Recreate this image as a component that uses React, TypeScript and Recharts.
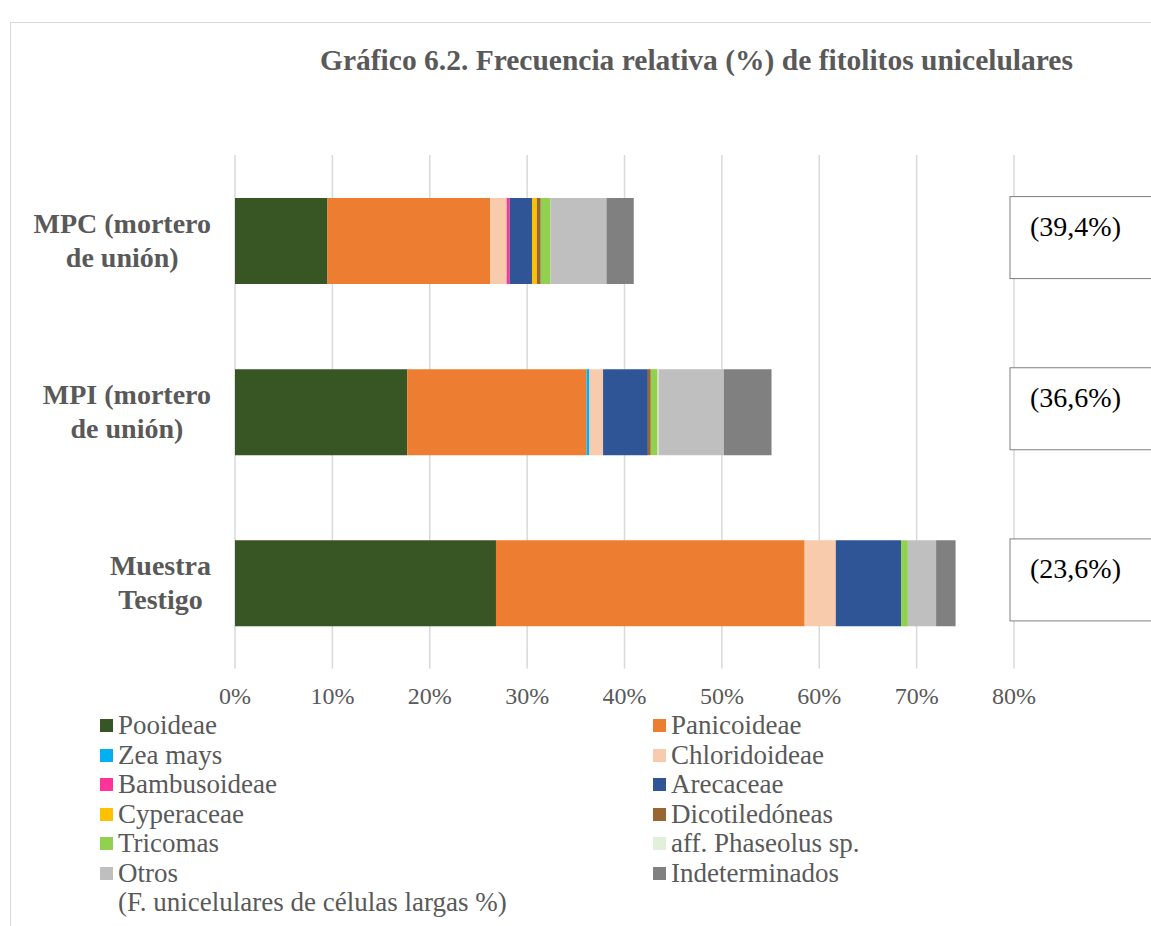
import React from 'react';
import { BarChart, Bar, XAxis, YAxis, CartesianGrid } from 'recharts';

const CATEGORIES = ['MPC (mortero\nde unión)', 'MPI (mortero\nde unión)', 'Muestra\nTestigo'];
const TOTAL_LABELS = ['(39,4%)', '(36,6%)', '(23,6%)'];
const X_TICKS = [0, 10, 20, 30, 40, 50, 60, 70, 80];

// values per category: MPC, MPI, Muestra Testigo
const pooideae = [9.5, 17.7, 26.8];
const panicoideae = [16.7, 18.4, 31.7];
const zeaMays = [0, 0.3, 0];
const chloridoideae = [1.7, 1.4, 3.2];
const bambusoideae = [0.3, 0, 0];
const arecaceae = [2.3, 4.6, 6.7];
const cyperaceae = [0.5, 0, 0];
const dicotiledoneas = [0.4, 0.3, 0];
const tricomas = [1.0, 0.7, 0.7];
const phaseolus = [0, 0.1, 0];
const otros = [5.75, 6.7, 2.9];
const indeterminados = [2.8, 4.9, 2.0];

const SERIES = [
  { key: 'Pooideae', values: pooideae, color: '#375623' },
  { key: 'Panicoideae', values: panicoideae, color: '#ED7D31' },
  { key: 'Zea mays', values: zeaMays, color: '#00B0F0' },
  { key: 'Chloridoideae', values: chloridoideae, color: '#F8CBAD' },
  { key: 'Bambusoideae', values: bambusoideae, color: '#FF3399' },
  { key: 'Arecaceae', values: arecaceae, color: '#2F5597' },
  { key: 'Cyperaceae', values: cyperaceae, color: '#FFC000' },
  { key: 'Dicotiledóneas', values: dicotiledoneas, color: '#996633' },
  { key: 'Tricomas', values: tricomas, color: '#92D050' },
  { key: 'aff. Phaseolus sp.', values: phaseolus, color: '#E2EFDA' },
  { key: 'Otros', values: otros, color: '#BFBFBF' },
  { key: 'Indeterminados', values: indeterminados, color: '#808080' },
];

const data = CATEGORIES.map((name, i) => {
  const row: any = { name };
  SERIES.forEach((s) => { row[s.key] = s.values[i]; });
  return row;
});

const FONT = "'Liberation Serif', 'Times New Roman', serif";
const TEXT = '#595959';

let ctx: CanvasRenderingContext2D | null = null;
const measure = (t: string, font: string) => {
  if (!ctx) ctx = document.createElement('canvas').getContext('2d');
  if (!ctx) return t.length * 12;
  ctx.font = font;
  return ctx.measureText(t).width;
};

const CategoryTick = ({ x, y, payload }: any) => {
  const lines = String(payload.value).split('\n');
  const font = `bold 28px ${FONT}`;
  const maxW = Math.max(...lines.map((l) => measure(l, font)));
  const cx = x - maxW / 2;
  return (
    <text x={cx} y={y} textAnchor="middle" fill={TEXT} fontFamily={FONT} fontSize={28} fontWeight="bold">
      {lines.map((l, i) => (
        <tspan key={i} x={cx} y={y + (i - (lines.length - 1) / 2) * 34 + 9}>{l}</tspan>
      ))}
    </text>
  );
};

const BoxTick = ({ x, y, payload }: any) => {
  const label = TOTAL_LABELS[payload.index];
  return (
    <g>
      <rect x={x - 10} y={y - 44} width={170} height={82} fill="#fff" stroke="#7f7f7f" strokeWidth={1} />
      <text x={x + 10} y={y - 5} fill="#000" fontFamily={FONT} fontSize={28}>{label}</text>
    </g>
  );
};

export default function App() {
  return (
    <div style={{ position: 'absolute', left: 0, top: 0, width: 1151, height: 926, background: '#fff', overflow: 'hidden', fontFamily: FONT }}>
      <div style={{ position: 'absolute', left: 10, top: 22, width: 1200, height: 1000, borderLeft: '1.5px solid #d9d9d9', borderTop: '1.5px solid #d9d9d9' }} />
      <div style={{ position: 'absolute', left: 320, top: 44, whiteSpace: 'nowrap', fontSize: 29.5, fontWeight: 'bold', color: TEXT }}>
        Gráfico 6.2. Frecuencia relativa (%) de fitolitos unicelulares
      </div>
      <div style={{ position: 'absolute', left: 0, top: 0 }}>
        <BarChart width={1151} height={720} data={data} layout="vertical" barSize={86}
          margin={{ top: 155, right: 0, bottom: 0, left: 0 }}>
          <CartesianGrid horizontal={false} stroke="#d9d9d9" strokeWidth={1.5} />
          <XAxis type="number" domain={[0, 80]} ticks={X_TICKS} tickFormatter={(v) => `${v}%`}
            axisLine={false} tickLine={false} tickMargin={12} height={51.5} interval={0}
            tick={{ fill: TEXT, fontSize: 24, fontFamily: FONT }} />
          <YAxis yAxisId="left" type="category" dataKey="name" width={235} axisLine={false} tickLine={false}
            tickMargin={18} tick={<CategoryTick />} />
          <YAxis yAxisId="right" orientation="right" type="category" dataKey="name" width={137} axisLine={false}
            tickLine={false} tickMargin={0} tick={<BoxTick />} />
          {SERIES.map((s) => (
            <Bar key={s.key} yAxisId="left" dataKey={s.key} stackId="a" fill={s.color} isAnimationActive={false} />
          ))}
        </BarChart>
      </div>
      <div style={{ position: 'absolute', left: 100, top: 711, width: 1000, fontSize: 27, color: TEXT, lineHeight: '29.5px' }}>
        <div style={{ display: 'grid', gridTemplateColumns: '553px 400px' }}>
          {SERIES.map((s) => (
            <div key={s.key} style={{ display: 'flex', alignItems: 'center', whiteSpace: 'nowrap' }}>
              <span style={{ display: 'inline-block', width: 13, height: 13, background: s.color, marginRight: 5 }} />
              {s.key}
            </div>
          ))}
        </div>
        <div style={{ paddingLeft: 18 }}>(F. unicelulares de células largas %)</div>
      </div>
    </div>
  );
}
